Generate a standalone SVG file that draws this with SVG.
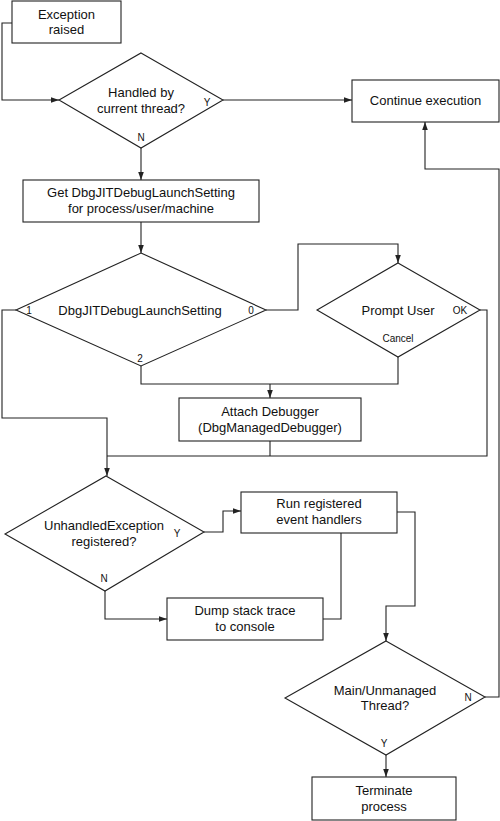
<svg xmlns="http://www.w3.org/2000/svg" width="500" height="821" viewBox="0 0 500 821">
<style>
.box{fill:#fff;stroke:#222;stroke-width:1.1}
.t{font-family:"Liberation Sans",Arial,sans-serif;font-size:13px;fill:#111;text-anchor:middle}
.s{font-family:"Liberation Sans",Arial,sans-serif;font-size:10px;fill:#111;text-anchor:middle}
.c{fill:none;stroke:#222;stroke-width:1.1}
.a{marker-end:url(#ah)}
</style>
<defs>
<marker id="ah" markerUnits="userSpaceOnUse" markerWidth="8" markerHeight="8" viewBox="0 0 8 8" refX="8" refY="4" orient="auto">
<path d="M0,1.2 L8,4 L0,6.8 Z" fill="#222"/>
</marker>
</defs>
<rect width="500" height="821" fill="#fff"/>
<g id="connectors">
<path class="c a" d="M12,23 H2 V100 H59"/>
<path class="c a" d="M223,100 H352"/>
<path class="c a" d="M141,148 V180"/>
<path class="c a" d="M141,222 V253"/>
<path class="c a" d="M266,310 H298 V244 H398 V263"/>
<path class="c" d="M141,366 V384 H398 V357"/>
<path class="c a" d="M270,384 V398"/>
<path class="c a" d="M16,310 H2 V418 H107 V476"/>
<path class="c" d="M270,441 V456"/>
<path class="c" d="M480,310 H487 V456 H107"/>
<path class="c a" d="M204,532 H223 V511 H241"/>
<path class="c a" d="M105,591 V619 H167"/>
<path class="c" d="M341,533 V619 H323"/>
<path class="c a" d="M397,512 H415 V606 H386 V641"/>
<path class="c a" d="M485,697 H499 V169 H425 V122"/>
<path class="c a" d="M386,755 V777"/>
</g>
<g id="exception-raised">
<rect class="box" x="12" y="1" width="109" height="42"/>
<text class="t" x="66.5" y="18.5">Exception</text>
<text class="t" x="66.5" y="33.5">raised</text>
</g>
<g id="handled-by-thread">
<polygon class="box" points="141,53 223,100 141,148 59,100"/>
<text class="t" x="141" y="97">Handled by</text>
<text class="t" x="141" y="113">current thread?</text>
<text class="s" x="207" y="105.5">Y</text>
<text class="s" x="141" y="140.5">N</text>
</g>
<g id="continue-execution">
<rect class="box" x="352" y="80" width="147" height="42"/>
<text class="t" x="425.5" y="104.5">Continue execution</text>
</g>
<g id="get-setting">
<rect class="box" x="23" y="180" width="236" height="42"/>
<text class="t" x="141" y="197">Get DbgJITDebugLaunchSetting</text>
<text class="t" x="141" y="213">for process/user/machine</text>
</g>
<g id="launch-setting">
<polygon class="box" points="141,253 266,310 141,366 16,310"/>
<text class="t" x="140" y="314.5">DbgJITDebugLaunchSetting</text>
<text class="s" x="29" y="313.5">1</text>
<text class="s" x="251" y="313.5">0</text>
<text class="s" x="140" y="361.5">2</text>
</g>
<g id="prompt-user">
<polygon class="box" points="398,263 480,310 398,357 317,310"/>
<text class="t" x="398" y="314.5">Prompt User</text>
<text class="s" x="460" y="313.5">OK</text>
<text class="s" x="398" y="341.5">Cancel</text>
</g>
<g id="attach-debugger">
<rect class="box" x="179" y="398" width="182" height="43"/>
<text class="t" x="270" y="416">Attach Debugger</text>
<text class="t" x="270" y="432">(DbgManagedDebugger)</text>
</g>
<g id="unhandled-registered">
<polygon class="box" points="106,476 204,532 105,591 5,534"/>
<text class="t" x="104" y="530">UnhandledException</text>
<text class="t" x="104" y="546">registered?</text>
<text class="s" x="177" y="536.5">Y</text>
<text class="s" x="104" y="581.5">N</text>
</g>
<g id="run-handlers">
<rect class="box" x="241" y="492" width="156" height="41"/>
<text class="t" x="319" y="508">Run registered</text>
<text class="t" x="319" y="524">event handlers</text>
</g>
<g id="dump-stack">
<rect class="box" x="167" y="598" width="156" height="42"/>
<text class="t" x="245" y="615">Dump stack trace</text>
<text class="t" x="245" y="631">to console</text>
</g>
<g id="main-thread">
<polygon class="box" points="386,641 485,697 386,755 285,698"/>
<text class="t" x="385" y="694.5">Main/Unmanaged</text>
<text class="t" x="385" y="709.5">Thread?</text>
<text class="s" x="468" y="700.5">N</text>
<text class="s" x="384" y="746.5">Y</text>
</g>
<g id="terminate">
<rect class="box" x="312" y="777" width="144" height="43"/>
<text class="t" x="384" y="794.5">Terminate</text>
<text class="t" x="384" y="811">process</text>
</g>
</svg>
